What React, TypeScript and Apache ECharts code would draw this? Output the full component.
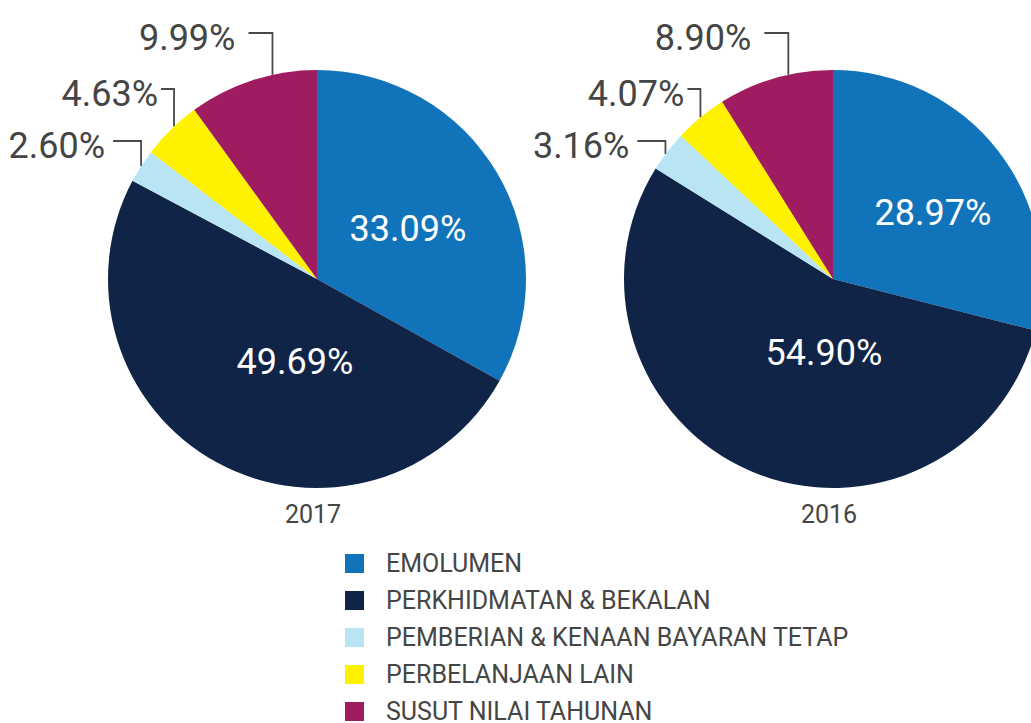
import React, { useEffect, useRef } from "react";
import * as echarts from "echarts";

const CATEGORIES = [
  "EMOLUMEN",
  "PERKHIDMATAN & BEKALAN",
  "PEMBERIAN & KENAAN BAYARAN TETAP",
  "PERBELANJAAN LAIN",
  "SUSUT NILAI TAHUNAN",
];
const YEARS = ["2017", "2016"];
const VALUES_2017 = [33.09, 49.69, 2.6, 4.63, 9.99];
const VALUES_2016 = [28.97, 54.9, 3.16, 4.07, 8.9];
const SERIES_VALUES = [VALUES_2017, VALUES_2016];

const COLORS = ["#1174bb", "#0f2446", "#b9e4f4", "#fff200", "#9e1c5f"];
const FONT = "Roboto";
const TEXT_GREY = "#454545";

const CENTERS: [number, number][] = [
  [317, 279],
  [833, 279],
];
const RADIUS = 209;

// inside label offsets from pie centre (per pie, per inner slice)
const INNER_OFFSETS: Record<number, [number, number]>[] = [
  { 0: [91, -50], 1: [-22, 83] },
  { 0: [100, -66], 1: [-9, 74] },
];
// outside label rows: line y, horizontal segment, gap to text, anchor x shift per pie
const OUTER_ROWS: Record<number, { y: number; h: number; gap: number; dx: number[] }> = {
  4: { y: 33, h: 24, gap: 13, dx: [20, 13] },
  3: { y: 89, h: 13, gap: 3, dx: [3, 0] },
  2: { y: 141, h: 28, gap: 8, dx: [0, -2] },
};

export default function App() {
  const ref = useRef<HTMLDivElement>(null);
  useEffect(() => {
    if (!ref.current) return;
    const chart = echarts.init(ref.current, undefined, { renderer: "svg" });

    const series = SERIES_VALUES.map((vals, si) => ({
      type: "pie",
      name: YEARS[si],
      center: CENTERS[si],
      radius: RADIUS,
      startAngle: 90,
      clockwise: true,
      avoidLabelOverlap: false,
      silent: true,
      itemStyle: { borderWidth: 0 },
      data: vals.map((v, i) => {
        const inner = i < 2;
        return {
          name: CATEGORIES[i],
          value: v,
          itemStyle: { color: COLORS[i] },
          label: {
            show: true,
            position: inner ? "inside" : "outside",
            formatter: (p: any) => p.value.toFixed(2) + "%",
            color: inner ? "#ffffff" : TEXT_GREY,
            fontSize: 36,
            fontFamily: FONT,
          },
          labelLine: {
            show: !inner,
            lineStyle: { color: "#4a4a4a", width: 1.8 },
          },
        };
      }),
      labelLayout: (params: any) => {
        const idx = params.dataIndex;
        const [cx, cy] = CENTERS[si];
        if (idx < 2) {
          const off = INNER_OFFSETS[si][idx];
          return {
            x: cx + off[0],
            y: cy + off[1],
            align: "center",
            verticalAlign: "middle",
          };
        }
        const row = OUTER_ROWS[idx];
        const pts = params.labelLinePoints;
        if (!pts || !row) return {};
        const ax = pts[0][0] + row.dx[si];
        const ay = cy - Math.sqrt(Math.max(0, RADIUS * RADIUS - (ax - cx) * (ax - cx)));
        const hx = ax - row.h;
        return {
          x: hx - row.gap,
          y: row.y + 5,
          align: "right",
          verticalAlign: "middle",
          labelLinePoints: [
            [ax, ay],
            [ax, row.y],
            [hx, row.y],
          ],
        };
      },
    }));

    chart.setOption({
      animation: false,
      backgroundColor: "#ffffff",
      legend: {
        orient: "vertical",
        left: 345,
        top: 551,
        height: 200,
        padding: 0,
        itemWidth: 19,
        itemHeight: 19,
        itemGap: 12,
        icon: "rect",
        selectedMode: false,
        data: CATEGORIES,
        textStyle: {
          fontFamily: FONT,
          fontSize: 25,
          color: TEXT_GREY,
          padding: [0, 0, 0, 17],
        },
      },
      graphic: YEARS.map((y, i) => ({
        type: "text",
        x: CENTERS[i][0] - 4,
        y: 514,
        style: {
          text: y,
          fill: TEXT_GREY,
          fontSize: 25,
          fontFamily: FONT,
          textAlign: "center",
          textVerticalAlign: "middle",
        },
      })),
      series,
    });

    return () => chart.dispose();
  }, []);

  return (
    <div
      ref={ref}
      style={{ position: "fixed", left: 0, top: 0, width: 1031, height: 723 }}
    />
  );
}
